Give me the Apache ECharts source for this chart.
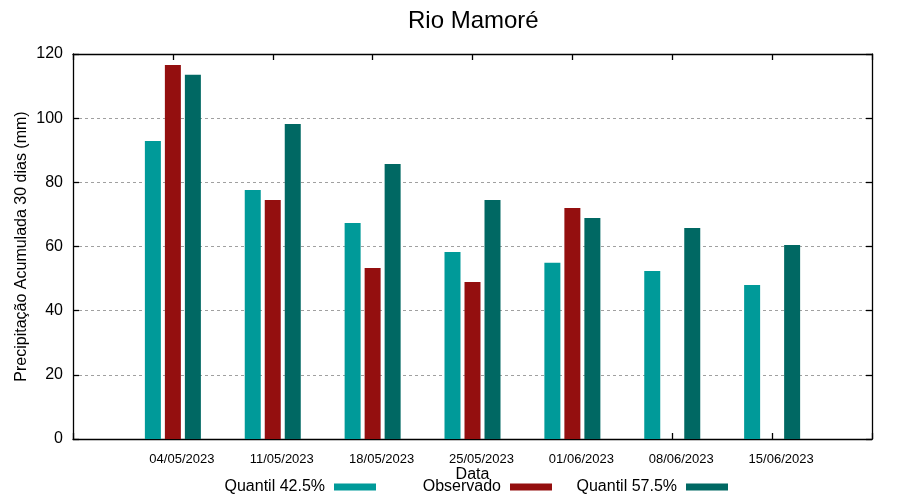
<!DOCTYPE html>
<html>
<head>
<meta charset="utf-8">
<script src="https://cdn.jsdelivr.net/npm/echarts@6/dist/echarts.min.js"></script>
<style>html,body{margin:0;padding:0;background:#fff}#c{width:900px;height:500px}</style>
</head>
<body>
<div id="c"></div>
<script>
var categories = ['04/05/2023','11/05/2023','18/05/2023','25/05/2023','01/06/2023','08/06/2023','15/06/2023'];
var q425 = [92.9, 77.6, 67.3, 58.3, 54.9, 52.4, 48.0];
var observado = [116.6, 74.5, 53.3, 48.9, 72.0];
var q575 = [113.5, 98.2, 85.7, 74.5, 68.9, 65.8, 60.5];
var yTicks = [0, 20, 40, 60, 80, 100, 120];

var FONT = 'Liberation Sans';
function toXY(arr){ return arr.map(function(v,i){ return [i+1, v]; }); }
function xLabel(v){ var i = Math.round(v) - 1; return (i >= 0 && i < categories.length) ? categories[i] : ''; }

var chart = echarts.init(document.getElementById('c'), null, {renderer:'canvas'});
function axisLine(){ return {show:true, onZero:false, lineStyle:{color:'#000', width:1.3}}; }
function tick(){ return {show:true, inside:true, length:6, lineStyle:{color:'#000', width:1.3}}; }
var colors = ['#009a99', '#940f0f', '#006863'];
var names = ['Quantil 42.5%', 'Observado', 'Quantil 57.5%'];

function legendFor(i, right){
  return {
    data:[names[i]], right:right, top:479, padding:0, align:'right',
    itemWidth:42, itemHeight:7, icon:'rect', selectedMode:false,
    textStyle:{fontFamily:FONT, fontSize:16, color:'#000', padding:[0,4,0,0]}
  };
}

chart.setOption({
  animation:false,
  title:{text:'Rio Mamoré', left:408, top:9, padding:0,
    textStyle:{fontFamily:FONT, fontSize:24, fontWeight:'normal', color:'#000'}},
  legend:[legendFor(0, 524), legendFor(1, 348), legendFor(2, 172)],
  grid:{left:73, right:28, top:54, bottom:61, containLabel:false},
  xAxis:[
    {type:'value', min:0, max:8, interval:1, position:'bottom',
     name:'Data', nameLocation:'middle', nameGap:28, nameMoveOverlap:false,
     nameTextStyle:{fontFamily:FONT, fontSize:16, color:'#000'},
     axisLine:axisLine(), axisTick:tick(), splitLine:{show:false},
     axisLabel:{formatter:xLabel, fontFamily:FONT, fontSize:13, color:'#000', margin:14, padding:[0,0,0,18]}},
    {type:'value', min:0, max:8, interval:1, position:'top',
     axisLine:axisLine(), axisTick:tick(), splitLine:{show:false}, axisLabel:{show:false}}
  ],
  yAxis:[
    {type:'value', min:yTicks[0], max:yTicks[yTicks.length-1], interval:20, position:'left',
     name:'Precipitação Acumulada 30 dias (mm)', nameLocation:'middle', nameGap:43, nameRotate:90,
     nameMoveOverlap:false,
     nameTextStyle:{fontFamily:FONT, fontSize:16, color:'#000'},
     axisLine:axisLine(), axisTick:tick(),
     axisLabel:{fontFamily:FONT, fontSize:16, color:'#000', margin:10},
     splitLine:{show:true, lineStyle:{color:'#a0a0a0', type:[3,3], width:1}}},
    {type:'value', min:yTicks[0], max:yTicks[yTicks.length-1], interval:20, position:'right',
     axisLine:axisLine(), axisTick:tick(), axisLabel:{show:false}, splitLine:{show:false}}
  ],
  series:[
    {name:names[0], type:'bar', data:toXY(q425), barWidth:16, barGap:'25%', itemStyle:{color:colors[0]}},
    {name:names[1], type:'bar', data:toXY(observado), barWidth:16, barGap:'25%', itemStyle:{color:colors[1]}},
    {name:names[2], type:'bar', data:toXY(q575), barWidth:16, barGap:'25%', itemStyle:{color:colors[2]}}
  ]
});
</script>
</body>
</html>
